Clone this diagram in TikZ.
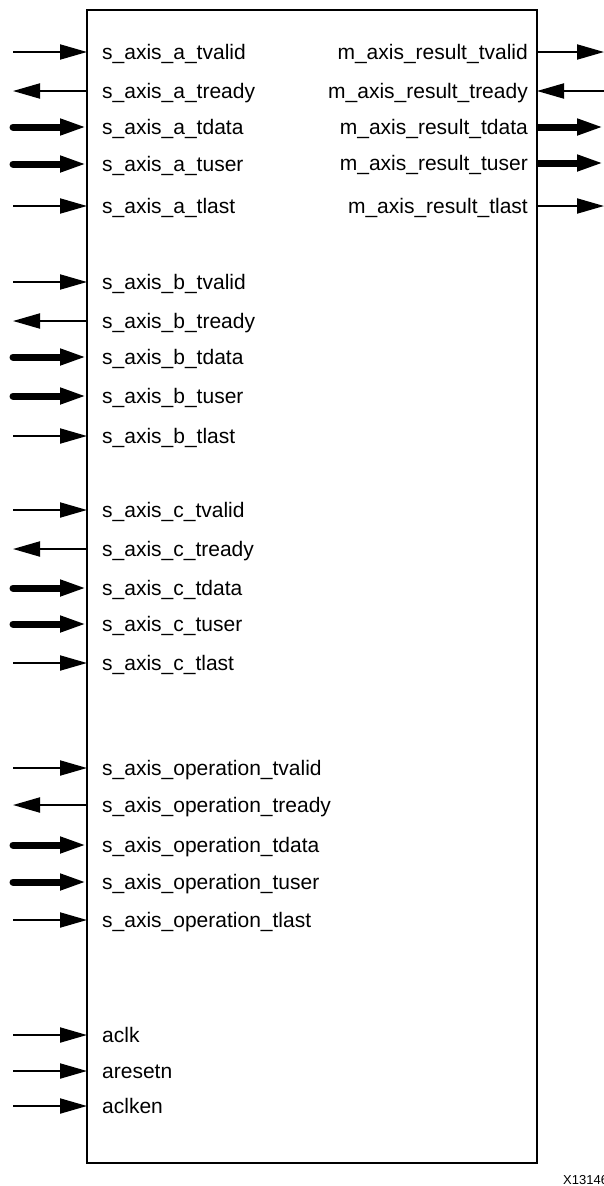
\documentclass[tikz,border=0pt]{standalone}
\usepackage{fontspec}
\setmainfont{Liberation Sans}
\usetikzlibrary{arrows.meta}
\begin{document}
\begin{tikzpicture}[x=1pt,y=1pt,
  sigin/.style={line width=2pt, -{Triangle[length=27pt,width=15pt]}},
  sigout/.style={line width=2pt, {Triangle[length=27pt,width=15pt]}-},
  busin/.style={line width=7pt, line cap=round, -{Triangle[length=27pt,width=15pt]}},
  busr/.style={line width=7pt, line cap=butt, -{Triangle[length=27pt,width=15pt]}},
  lbl/.style={inner sep=0pt, font=\fontsize{21}{25}\selectfont},
  tag/.style={inner sep=0pt, font=\fontsize{13}{15}\selectfont}]
\useasboundingbox (0,0) rectangle (604,-1186);
\node[draw, line width=2.5pt, minimum width=450pt, minimum height=1153pt, anchor=north west, inner sep=0pt, outer sep=0pt] (box) at (87,-10) {};
% left side
\foreach \i/\y/\t/\k in {
  1/52/s\_axis\_a\_tvalid/sigin, 2/91/s\_axis\_a\_tready/sigout, 3/127/s\_axis\_a\_tdata/busin, 4/164/s\_axis\_a\_tuser/busin, 5/206/s\_axis\_a\_tlast/sigin,
  6/282/s\_axis\_b\_tvalid/sigin, 7/321/s\_axis\_b\_tready/sigout, 8/357/s\_axis\_b\_tdata/busin, 9/396/s\_axis\_b\_tuser/busin, 10/436/s\_axis\_b\_tlast/sigin,
  11/510/s\_axis\_c\_tvalid/sigin, 12/549/s\_axis\_c\_tready/sigout, 13/588/s\_axis\_c\_tdata/busin, 14/624/s\_axis\_c\_tuser/busin, 15/663/s\_axis\_c\_tlast/sigin,
  16/768/s\_axis\_operation\_tvalid/sigin, 17/805/s\_axis\_operation\_tready/sigout, 18/845/s\_axis\_operation\_tdata/busin, 19/882/s\_axis\_operation\_tuser/busin, 20/920/s\_axis\_operation\_tlast/sigin,
  21/1035/aclk/sigin, 22/1071/aresetn/sigin, 23/1106/aclken/sigin}{
  \node[lbl, anchor=base west] (L\i) at (102,-\y-7.5) {\t};
  \coordinate (Ls\i) at (13,-\y);
  \draw[\k] (Ls\i) -- (Ls\i -| box.west);
}
% right side
\foreach \i/\y/\t/\k in {
  1/52/m\_axis\_result\_tvalid/sigin, 2/91/m\_axis\_result\_tready/sigout, 3/127/m\_axis\_result\_tdata/busr, 4/163/m\_axis\_result\_tuser/busr, 5/206/m\_axis\_result\_tlast/sigin}{
  \node[lbl, anchor=base east] (R\i) at (528,-\y-7.5) {\t};
  \coordinate (Rs\i) at (604,-\y);
  \draw[\k] (Rs\i -| box.east) -- (Rs\i);
}
\node[tag, anchor=base west] (fig) at (563,-1184) {X13146};
\end{tikzpicture}
\end{document}
